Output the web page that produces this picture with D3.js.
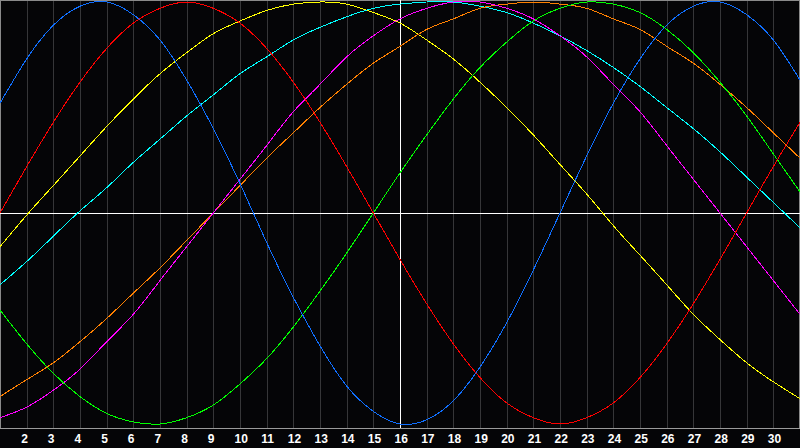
<!DOCTYPE html>
<html>
<head>
<meta charset="utf-8">
<script src="https://cdn.jsdelivr.net/npm/d3@7"></script>
<style>
  html, body { margin: 0; padding: 0; background: #050507; }
  svg { display: block; }
</style>
</head>
<body>
<div id="chart"></div>
<script>
// Days of the month shown (x categories)
const days = d3.range(1, 32);
const tickDays = d3.range(2, 31);
const todayDay = 16;

// Cycle values per day (-1..1)
const physical = [0.52, 0.73, 0.89, 0.98, 1.00, 0.94, 0.82, 0.63, 0.40, 0.14, -0.14, -0.40, -0.63, -0.82, -0.94, -1.00, -0.98, -0.89, -0.73, -0.52, -0.27, 0.00, 0.27, 0.52, 0.73, 0.89, 0.98, 1.00, 0.94, 0.82, 0.63];
const emotional = [0.00, 0.22, 0.43, 0.62, 0.78, 0.90, 0.97, 1.00, 0.97, 0.90, 0.78, 0.62, 0.43, 0.22, 0.00, -0.22, -0.43, -0.62, -0.78, -0.90, -0.97, -1.00, -0.97, -0.90, -0.78, -0.62, -0.43, -0.22, 0.00, 0.22, 0.43];
const intellectual = [-0.46, -0.62, -0.76, -0.87, -0.95, -0.99, -1.00, -0.97, -0.91, -0.81, -0.69, -0.54, -0.37, -0.19, 0.00, 0.19, 0.37, 0.54, 0.69, 0.81, 0.91, 0.97, 1.00, 0.99, 0.95, 0.87, 0.76, 0.62, 0.46, 0.28, 0.10];
const intuitive = [-0.97, -0.92, -0.84, -0.74, -0.61, -0.48, -0.32, -0.16, 0.00, 0.16, 0.32, 0.48, 0.61, 0.74, 0.84, 0.92, 0.97, 1.00, 1.00, 0.97, 0.92, 0.84, 0.74, 0.61, 0.48, 0.32, 0.16, 0.00, -0.16, -0.32, -0.48];
const awareness = [-0.87, -0.79, -0.71, -0.61, -0.50, -0.38, -0.26, -0.13, 0.00, 0.13, 0.26, 0.38, 0.50, 0.61, 0.71, 0.79, 0.87, 0.92, 0.97, 0.99, 1.00, 0.99, 0.97, 0.92, 0.87, 0.79, 0.71, 0.61, 0.50, 0.38, 0.26];
const aesthetic = [-0.16, -0.01, 0.13, 0.27, 0.41, 0.54, 0.66, 0.76, 0.85, 0.91, 0.96, 0.99, 1.00, 0.99, 0.95, 0.90, 0.82, 0.73, 0.62, 0.50, 0.37, 0.23, 0.09, -0.06, -0.20, -0.34, -0.48, -0.60, -0.71, -0.80, -0.88];
const spiritual = [-0.34, -0.23, -0.11, 0.01, 0.12, 0.24, 0.35, 0.46, 0.56, 0.66, 0.74, 0.82, 0.88, 0.93, 0.97, 0.99, 1.00, 1.00, 0.98, 0.95, 0.90, 0.84, 0.77, 0.69, 0.60, 0.50, 0.40, 0.29, 0.17, 0.05, -0.07];

const seriesNames = ["aesthetic", "spiritual", "awareness", "intuitive", "intellectual", "emotional", "physical"];
const seriesValues = [aesthetic, spiritual, awareness, intuitive, intellectual, emotional, physical];
const seriesColors = ["#ffff00", "#00ffff", "#ff8000", "#ff00ff", "#00ff00", "#ff0000", "#0f6fff"];

const W = 800, H = 448, plotBottom = 428;

const svg = d3.select("#chart").append("svg")
  .attr("width", W).attr("height", H)
  .style("background", "#050507");

const x = d3.scaleLinear().domain([1, 31]).range([0, 800]);
const y = d3.scaleLinear().domain([-1, 1]).range([424, 2]);

// vertical grid lines
svg.append("g")
  .attr("transform", `translate(0,${plotBottom})`)
  .call(d3.axisBottom(x).tickValues(tickDays).tickSize(-plotBottom).tickFormat(""))
  .call(g => g.select(".domain").remove())
  .call(g => g.selectAll(".tick line")
    .attr("stroke", "#363638").attr("shape-rendering", "crispEdges"));

// frame
svg.append("path")
  .attr("d", `M0.5,${plotBottom} V0.5 H799.5 V${plotBottom}`)
  .attr("fill", "none").attr("stroke", "#8a8a8a")
  .attr("shape-rendering", "crispEdges");
svg.append("line")
  .attr("x1", 0).attr("x2", W).attr("y1", plotBottom + 0.5).attr("y2", plotBottom + 0.5)
  .attr("stroke", "#9a9a9a").attr("shape-rendering", "crispEdges");

// day labels
svg.append("g")
  .attr("transform", `translate(0,${plotBottom})`)
  .call(d3.axisBottom(x).tickValues(tickDays).tickSize(0).tickFormat(d3.format("d")))
  .call(g => g.select(".domain").remove())
  .call(g => g.selectAll(".tick text")
    .attr("fill", "#ffffff")
    .attr("text-anchor", "start")
    .attr("x", -6)
    .attr("y", 15)
    .attr("dy", null)
    .attr("font-family", "Liberation Sans, Arial, sans-serif")
    .attr("font-weight", "bold")
    .attr("font-size", "12px"));

// center lines
svg.append("line")
  .attr("x1", 0).attr("x2", W).attr("y1", Math.round(y(0)) + 0.5).attr("y2", Math.round(y(0)) + 0.5)
  .attr("stroke", "#ffffff").attr("shape-rendering", "crispEdges");
svg.append("line")
  .attr("x1", Math.round(x(todayDay)) + 0.5).attr("x2", Math.round(x(todayDay)) + 0.5)
  .attr("y1", 0).attr("y2", plotBottom)
  .attr("stroke", "#ffffff").attr("shape-rendering", "crispEdges");

// curves
const line = d3.line()
  .x((d, i) => x(days[i]))
  .y(d => y(d))
  .curve(d3.curveNatural);

svg.append("g").selectAll("path")
  .data(seriesValues)
  .join("path")
  .attr("d", d => line(d))
  .attr("fill", "none")
  .attr("stroke", (d, i) => seriesColors[i])
  .attr("stroke-width", 1)
  .attr("shape-rendering", "crispEdges");
</script>
</body>
</html>
